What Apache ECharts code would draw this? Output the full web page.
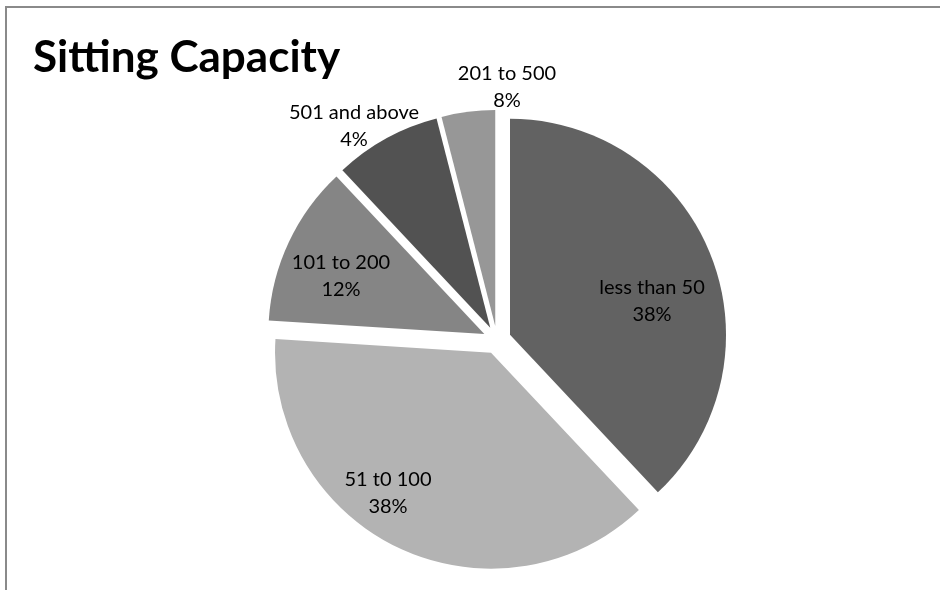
<!DOCTYPE html>
<html>
<head>
<meta charset="utf-8">
<script src="https://cdn.jsdelivr.net/npm/echarts@6/dist/echarts.min.js"></script>
<style>
  html, body { margin: 0; padding: 0; background: #fff; }
  #main { width: 940px; height: 590px; }
</style>
</head>
<body>
<div id="main"></div>
<script>
// data
var categories = ['less than 50', '51 t0 100', '101 to 200', '201 to 500', '501 and above'];
var shares = [38, 38, 12, 8, 4];

// styling
var sliceColors = ['#626262', '#b3b3b3', '#858585', '#525252', '#979797'];
// where the data labels sit (they were dragged around in Excel)
var labelPos = [[652, 301], [388, 493], [341, 276], [507, 87], [354, 126]];

var myChart = echarts.init(document.getElementById('main'));

var pieData = categories.map(function (name, i) {
    return {
        name: name,
        value: shares[i],
        selected: true,
        itemStyle: { color: sliceColors[i] }
    };
});

var total = shares.reduce(function (a, b) { return a + b; }, 0);

// data labels as plain text, one per category
var labels = categories.map(function (name, i) {
    return {
        type: 'text',
        x: labelPos[i][0],
        y: labelPos[i][1],
        silent: true,
        z: 10,
        style: {
            text: name + '\n' + Math.round(shares[i] / total * 100) + '%',
            fontFamily: 'Lato',
            fontSize: 20,
            lineHeight: 27,
            fill: '#000',
            align: 'center',
            verticalAlign: 'middle'
        }
    };
});

var option = {
    animation: false,
    backgroundColor: '#fff',
    title: {
        text: 'Sitting Capacity',
        left: 28,
        top: 31,
        textStyle: {
            fontFamily: 'Lato',
            fontWeight: 'bold',
            fontSize: 44,
            color: '#000'
        }
    },
    graphic: [{
        type: 'rect',
        shape: { x: 6, y: 7, width: 1000, height: 1000 },
        style: { fill: 'none', stroke: '#8a8a8a', lineWidth: 2 },
        silent: true
    }].concat(labels),
    series: [{
        name: 'Sitting Capacity',
        type: 'pie',
        center: [497, 340],
        radius: 216,
        startAngle: 90,
        clockwise: true,
        selectedMode: 'multiple',
        selectedOffset: 14,
        data: pieData,
        itemStyle: { borderWidth: 0 },
        label: { show: false },
        labelLine: { show: false },
        emphasis: { disabled: true }
    }]
};

myChart.setOption(option);
</script>
</body>
</html>
